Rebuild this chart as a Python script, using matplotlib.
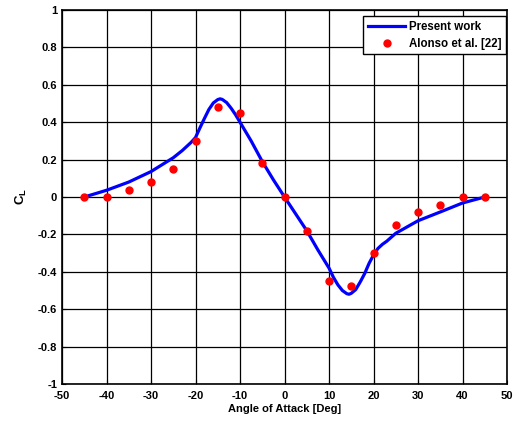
import matplotlib
matplotlib.use('Agg')
import matplotlib.pyplot as plt

plt.rcParams['font.family'] = 'Liberation Sans'
plt.rcParams['font.weight'] = 'bold'
plt.rcParams['axes.unicode_minus'] = False
plt.rcParams['mathtext.fontset'] = 'custom'
plt.rcParams['mathtext.rm'] = 'Liberation Sans:bold'
plt.rcParams['mathtext.it'] = 'Liberation Sans:bold'

# present work: lift coefficient vs angle of attack
alpha_pw = [-45, -40, -35, -30, -25, -23, -22, -21, -20, -19, -18, -17, -16, -15, -14.5, -14,
            -13, -12, -11, -10, -7.5, -5, -2.5, 0, 2.5, 5, 7.5, 10, 11, 12, 13, 14, 14.5, 15,
            16, 17, 18, 19, 20, 21, 22, 23, 25, 30, 35, 40, 45]
cl_pw = [0.0, 0.036, 0.08, 0.136, 0.21, 0.248, 0.27, 0.292, 0.318, 0.37, 0.42, 0.468, 0.503,
         0.521, 0.525, 0.522, 0.505, 0.475, 0.44, 0.40, 0.30, 0.19, 0.092, 0.0, -0.09, -0.18,
         -0.283, -0.38, -0.43, -0.47, -0.50, -0.517, -0.52, -0.515, -0.495, -0.455, -0.41,
         -0.355, -0.31, -0.275, -0.253, -0.236, -0.194, -0.127, -0.08, -0.032, 0.0]

# Alonso et al. [22]
alpha_ref = [-45, -40, -35, -30, -25, -20, -15, -10, -5, 0, 5, 10, 15, 20, 25, 30, 35, 40, 45]
cl_ref = [0.0, 0.0, 0.04, 0.079, 0.149, 0.301, 0.48, 0.448, 0.18, 0.0,
          -0.18, -0.447, -0.478, -0.30, -0.148, -0.081, -0.041, 0.0, 0.0]

fig = plt.figure(figsize=(5.15, 4.21), dpi=100)
ax = fig.add_axes([0.1204, 0.0879, 0.8641, 0.8883])

ax.plot(alpha_pw, cl_pw, color='#0000ff', lw=2.3, label='Present work', zorder=3,
        solid_joinstyle='round')
ax.plot(alpha_ref, cl_ref, 'o', color='#ff0000', ms=5, mec='#ff0000', label='Alonso et al. [22]', zorder=4)

ax.set_xlim(-50, 50)
ax.set_ylim(-1, 1)
ax.set_xticks(range(-50, 51, 10))
ax.set_yticks([-1, -0.8, -0.6, -0.4, -0.2, 0, 0.2, 0.4, 0.6, 0.8, 1])
ax.set_yticklabels(['-1', '-0.8', '-0.6', '-0.4', '-0.2', '0', '0.2', '0.4', '0.6', '0.8', '1'])
ax.tick_params(direction='in', length=3, labelsize=8, width=0.8)
ax.tick_params(axis='x', pad=5)
ax.grid(True, color='black', lw=0.9)
for s in ax.spines.values():
    s.set_linewidth(1.2)

ax.set_xlabel('Angle of Attack [Deg]', fontsize=8, fontweight='bold', labelpad=2)
ax.set_ylabel('$C_L$', fontsize=9.5, labelpad=6)

leg = ax.legend(loc='upper right', bbox_to_anchor=(0.998, 0.984), fontsize=8.3,
                fancybox=False, framealpha=1, edgecolor='black', borderaxespad=0,
                handlelength=3.2, borderpad=0.4, labelspacing=0.45, handletextpad=0.35)
leg.get_frame().set_linewidth(1.0)

fig.savefig('out.png', dpi=100)
